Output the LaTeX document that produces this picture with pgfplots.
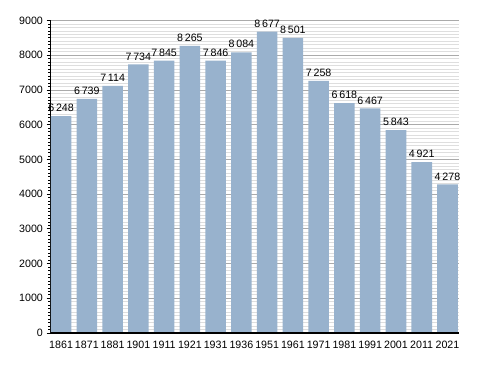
\documentclass[border=0pt]{standalone}
\usepackage{fontspec}
\setmainfont{Liberation Sans}
\usepackage{pgfplots}
\usepackage{pgfplotstable}
\pgfplotsset{compat=1.18}
\definecolor{barcol}{RGB}{152,178,205}
\definecolor{majgrid}{RGB}{170,170,170}
\definecolor{mingrid}{RGB}{222,222,222}
\pgfplotstableread{
x y lab
0 6248 6\,248
1 6739 6\,739
2 7114 7\,114
3 7734 7\,734
4 7845 7\,845
5 8265 8\,265
6 7846 7\,846
7 8084 8\,084
8 8677 8\,677
9 8501 8\,501
10 7258 7\,258
11 6618 6\,618
12 6467 6\,467
13 5843 5\,843
14 4921 4\,921
15 4278 4\,278
}\datatable
\begin{document}
\begin{tikzpicture}
\path[use as bounding box] (0,0) rectangle (366pt,279.75pt);
\begin{axis}[
  at={(37.9pt,30pt)}, anchor=south west,
  scale only axis,
  width=306pt, height=234.4pt,
  xmin=-0.41, xmax=15.43,
  ymin=0, ymax=9000,
  axis x line=bottom, axis y line=left,
  axis line style={-, black, line width=0.8pt},
  ytick={0,1000,...,9000},
  minor y tick num=9,
  ymajorgrids, yminorgrids,
  major grid style={majgrid, line width=0.6pt},
  minor grid style={mingrid, line width=0.5pt},
  xtick={0,...,15},
  xticklabels={1861,1871,1881,1901,1911,1921,1931,1936,1951,1961,1971,1981,1991,2001,2011,2021},
  x tick style={draw=none},
  y tick style={black, line width=0.5pt},
  tick align=outside,
  major tick length=3pt,
  minor tick length=1.8pt,
  tick label style={font=\fontsize{8}{9.6}\selectfont},
  /pgf/number format/assume math mode=true,
  yticklabel style={inner sep=0pt, xshift=-2.5pt},
  xticklabel style={inner sep=0pt, yshift=-2.6pt, anchor=north},
  scaled y ticks=false,
  y tick label style={/pgf/number format/1000 sep={}},
  every node near coord/.append style={font=\fontsize{8}{9.6}\selectfont, inner sep=0pt, anchor=south, yshift=3pt, black},
  nodes near coords,
  point meta=explicit symbolic,
  clip=false,
]
\addplot[ybar, bar width=0.8, fill=barcol, draw=none, bar shift=0pt] table[x=x, y=y, meta=lab] {\datatable};
\draw[black, line width=0.8pt] (axis cs:-0.41,0) -- (axis cs:15.43,0);
\end{axis}
\end{tikzpicture}
\end{document}
